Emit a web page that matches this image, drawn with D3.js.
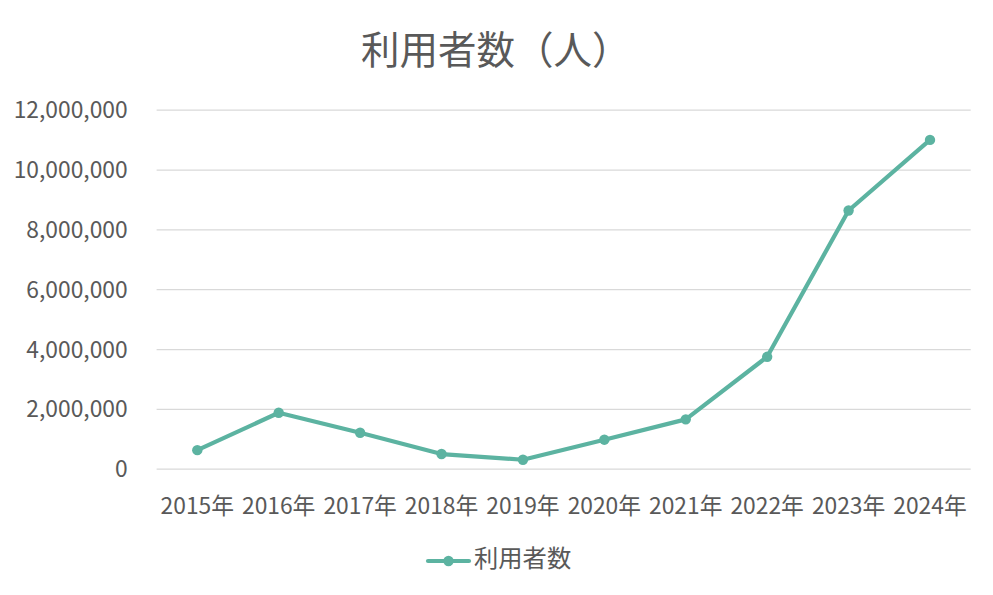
<!DOCTYPE html>
<html><head><meta charset="utf-8">
<script src="https://cdn.jsdelivr.net/npm/d3@7"></script>
<style>body{margin:0;background:#fff;} svg{display:block;}</style>
</head><body>
<svg id="c" width="993" height="595"></svg>
<script>
const title = "利用者数（人）";
const seriesName = "利用者数";
const categories = ["2015年","2016年","2017年","2018年","2019年","2020年","2021年","2022年","2023年","2024年"];
const values = [620000, 1870000, 1200000, 490000, 300000, 970000, 1650000, 3740000, 8630000, 10990000];
const yTicks = [0, 2000000, 4000000, 6000000, 8000000, 10000000, 12000000];

(function(){
const svg = d3.select("#c");
const font = "'Noto Sans CJK JP', 'Noto Sans', sans-serif";
const textColor = "#595959";
const lineColor = "#5cb3a1";
const pl = 156.6, pr = 970.7, pt = 109.7, pb = 468.7;

const x = d3.scaleBand().domain(categories).range([pl, pr]);
const y = d3.scaleLinear().domain([0, 12000000]).range([pb, pt]);

svg.append("text").attr("x", 361).attr("y", 64).attr("font-family", font)
  .attr("font-size", 38.5).attr("fill", textColor).text(title);

const yAxis = d3.axisLeft(y).tickValues(yTicks).tickSize(-(pr-pl)).tickFormat(d3.format(","));
const gy = svg.append("g").attr("transform", `translate(${pl},0)`).call(yAxis);
gy.select(".domain").remove();
gy.selectAll(".tick line").attr("stroke", "#d9d9d9").attr("stroke-width", 1.3);
gy.selectAll(".tick text").attr("x", -29).attr("font-family", font).attr("font-size", 22.8)
  .attr("fill", textColor).attr("dy", "0.35em");

const xAxis = d3.axisBottom(x).tickSize(0);
const gx = svg.append("g").attr("transform", `translate(0,${pb})`).call(xAxis);
gx.select(".domain").remove();
gx.selectAll(".tick text").attr("y", 45).attr("dy", 0).attr("font-family", font).attr("font-size", 22.8)
  .attr("fill", textColor);

const cx = d => x(d) + x.bandwidth()/2;
const line = d3.line().x((d,i) => cx(categories[i])).y(d => y(d));
svg.append("path").datum(values).attr("d", line).attr("fill", "none")
  .attr("stroke", lineColor).attr("stroke-width", 4.2).attr("stroke-linejoin", "round").attr("stroke-linecap", "round");
svg.selectAll("circle.pt").data(values).join("circle").attr("class","pt")
  .attr("cx", (d,i) => cx(categories[i])).attr("cy", d => y(d)).attr("r", 5.2).attr("fill", lineColor);

const lg = svg.append("g");
lg.append("line").attr("x1", 428).attr("x2", 469).attr("y1", 561).attr("y2", 561)
  .attr("stroke", lineColor).attr("stroke-width", 4.2).attr("stroke-linecap", "round");
lg.append("circle").attr("cx", 448.5).attr("cy", 561).attr("r", 5.2).attr("fill", lineColor);
lg.append("text").attr("x", 474).attr("y", 567).attr("font-family", font).attr("font-size", 24.3)
  .attr("fill", textColor).text(seriesName);
})();
</script>
</body></html>
